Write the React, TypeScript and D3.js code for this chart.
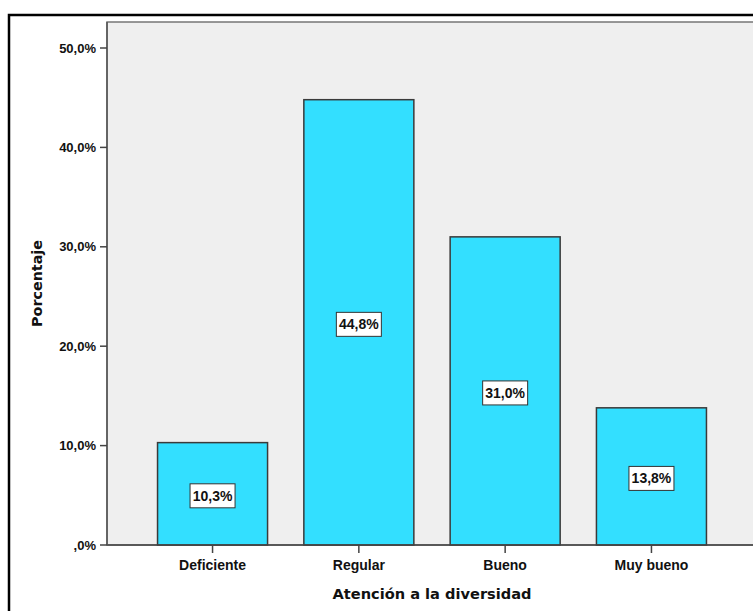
import React from "react";
import * as d3 from "d3";

const categories = ["Deficiente", "Regular", "Bueno", "Muy bueno"];
const values = [10.3, 44.8, 31.0, 13.8];
const yTicks = [0, 10, 20, 30, 40, 50];
const xTitle = "Atención a la diversidad";
const yTitle = "Porcentaje";

const fmt = (v: number) => {
  const s = v.toFixed(1).replace(".", ",");
  return (s.startsWith("0,") ? s.slice(1) : s) + "%";
};

export default function App() {
  const W = 753, H = 611;
  const plotL = 107, plotR = 757, plotT = 22, plotB = 545;
  const y = d3.scaleLinear().domain([0, 50]).range([plotB, 48]);
  const x = d3.scaleBand<string>().domain(categories).range([139.4, 724.6]).paddingInner(0.248).paddingOuter(0.124);
  const tickFont = "'Liberation Sans', Arial, sans-serif";
  const titleFont = "'DejaVu Sans', Verdana, sans-serif";
  return (
    <svg width={W} height={H} style={{ position: "absolute", left: 0, top: 0, background: "#fff" }}>
      <rect x={9} y={15} width={780} height={650} fill="#fff" stroke="#000" strokeWidth={2.5} />
      <rect x={plotL} y={plotT} width={plotR - plotL} height={plotB - plotT} fill="#efefef" stroke="#777" strokeWidth={1.5} />
      {categories.map((c, i) => {
        const bx = x(c)!;
        const bw = x.bandwidth();
        const top = y(values[i]);
        const cx = bx + bw / 2;
        const cy = (top + plotB) / 2 + 2;
        const label = fmt(values[i]);
        return (
          <g key={c}>
            <rect x={bx} y={top} width={bw} height={plotB - top} fill="#33dfff" stroke="#3a3a3a" strokeWidth={1.5} />
            <rect x={cx - 22.5} y={cy - 12} width={45} height={24} fill="#fff" stroke="#333" strokeWidth={1} />
            <text x={cx} y={cy} textAnchor="middle" dominantBaseline="central" fontFamily={tickFont} fontWeight="bold" fontSize={14} fill="#111">{label}</text>
            <line x1={cx} x2={cx} y1={plotB} y2={plotB + 8} stroke="#444" strokeWidth={1.5} />
            <text x={cx} y={plotB + 20} textAnchor="middle" dominantBaseline="central" fontFamily={tickFont} fontWeight="bold" fontSize={14} fill="#111">{c}</text>
          </g>
        );
      })}
      <line x1={plotL} x2={plotR} y1={plotB} y2={plotB} stroke="#444" strokeWidth={1.5} />
      <line x1={plotL} x2={plotL} y1={plotT} y2={plotB} stroke="#555" strokeWidth={1.5} />
      {yTicks.map(t => (
        <g key={t}>
          <line x1={plotL - 7} x2={plotL} y1={y(t)} y2={y(t)} stroke="#444" strokeWidth={1.5} />
          <text x={plotL - 11} y={y(t)} textAnchor="end" dominantBaseline="central" fontFamily={tickFont} fontWeight="bold" fontSize={13} fill="#111">{fmt(t)}</text>
        </g>
      ))}
      <text x={(plotL + plotR) / 2} y={593} textAnchor="middle" dominantBaseline="central" fontFamily={titleFont} fontWeight="bold" fontSize={14.6} fill="#111">{xTitle}</text>
      <text transform={`translate(37,${(plotT + plotB) / 2}) rotate(-90)`} textAnchor="middle" dominantBaseline="central" fontFamily={titleFont} fontWeight="bold" fontSize={14.3} fill="#111">{yTitle}</text>
    </svg>
  );
}
